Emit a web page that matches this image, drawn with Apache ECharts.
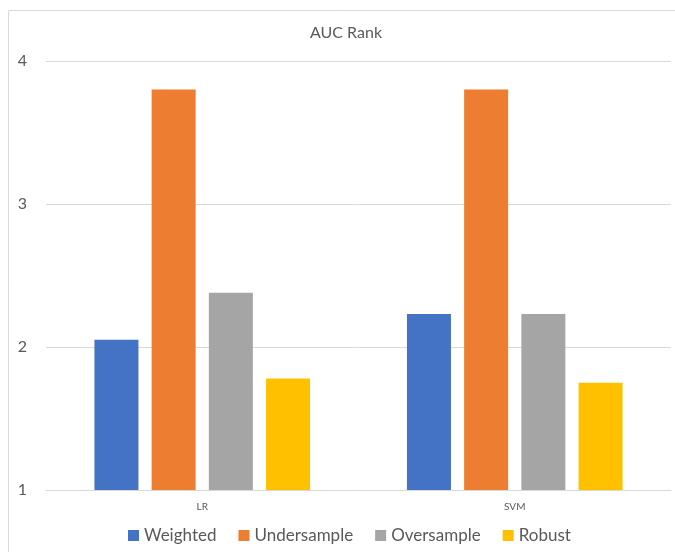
<!DOCTYPE html>
<html>
<head>
<meta charset="utf-8">
<script src="https://cdn.jsdelivr.net/npm/echarts@6/dist/echarts.min.js"></script>
<style>
  html, body { margin: 0; padding: 0; background: #fff; }
  #main { width: 675px; height: 552px; }
</style>
</head>
<body>
<div id="main"></div>
<script>
// data
var categories = ["LR", "SVM"];
var seriesNames = ["Weighted", "Undersample", "Oversample", "Robust"];
var weighted = [2.05, 2.23];
var undersample = [3.8, 3.8];
var oversample = [2.38, 2.23];
var robust = [1.78, 1.75];
var yTicks = [1, 2, 3, 4];

var values = [weighted, undersample, oversample, robust];
var colors = ["#4472C4", "#ED7D31", "#A5A5A5", "#FFC000"];
var textColor = "#595959";
var font = "Lato, 'Noto Sans', sans-serif";

var chart = echarts.init(document.getElementById("main"));

var option = {
  animation: false,
  color: colors,
  title: {
    text: "AUC Rank",
    left: 305,
    top: 20,
    textStyle: { fontSize: 16, fontWeight: "normal", color: textColor, fontFamily: font },
  },
  // outer chart border (only top/left visible in the reference)
  graphic: [
    {
      type: "rect",
      shape: { x: 8.5, y: 10.5, width: 700, height: 600 },
      style: { fill: "none", stroke: "#d9d9d9", lineWidth: 1 },
      silent: true,
    },
  ],
  legend: {
    data: seriesNames,
    bottom: 3,
    left: 123,
    itemWidth: 11,
    itemHeight: 11,
    itemGap: 22,
    icon: "rect",
    textStyle: { fontSize: 17, color: textColor, fontFamily: font },
  },
  grid: { left: 46, right: 4, top: 61, bottom: 62, outerBoundsMode: "none", containLabel: false },
  xAxis: {
    type: "category",
    data: categories,
    axisLine: { lineStyle: { color: "#d9d9d9" } },
    axisTick: { show: false },
    axisLabel: { fontSize: 10, color: textColor, fontFamily: font, margin: 12 },
  },
  yAxis: {
    type: "value",
    min: yTicks[0],
    max: yTicks[yTicks.length - 1],
    interval: 1,
    axisLine: { show: false },
    axisTick: { show: false },
    splitLine: { lineStyle: { color: "#d9d9d9" } },
    axisLabel: { fontSize: 16, color: textColor, fontFamily: font, margin: 19 },
  },
  series: seriesNames.map(function (name, i) {
    return {
      name: name,
      type: "bar",
      data: values[i],
      barGap: "30%",
      barCategoryGap: "31%",
      itemStyle: { color: colors[i] },
    };
  }),
};

chart.setOption(option);
</script>
</body>
</html>
